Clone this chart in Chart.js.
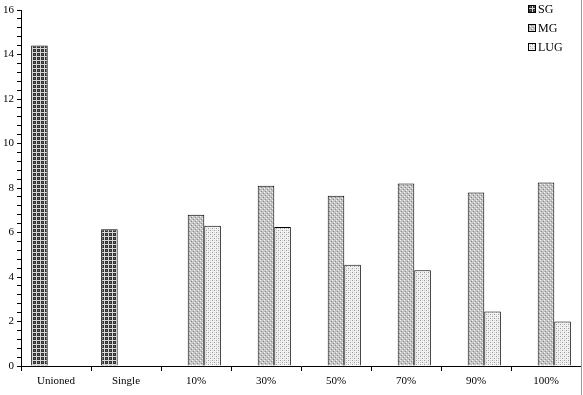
<!DOCTYPE html>
<html>
<head>
<meta charset="utf-8">
<script src="https://cdn.jsdelivr.net/npm/chart.js@4.4.0/dist/chart.umd.min.js"></script>
<style>
  body { margin: 0; background: #fff; }
  canvas { display: block; }
</style>
</head>
<body>
<canvas id="grafica" width="583" height="395"></canvas>
<script>
const categorias = ['Unioned', 'Single', '10%', '30%', '50%', '70%', '90%', '100%'];
const valoresSG = [14.4, 6.15, null, null, null, null, null, null];
const valoresMG = [null, null, 6.8, 8.1, 7.65, 8.2, 7.8, 8.25];
const valoresLUG = [null, null, 6.3, 6.25, 4.55, 4.3, 2.45, 2.0];

// small tiled patterns imitating the print hatching
function patron(fondo, dibujar) {
  const c = document.createElement('canvas');
  c.width = 4; c.height = 4;
  const g = c.getContext('2d');
  g.fillStyle = fondo;
  g.fillRect(0, 0, 4, 4);
  dibujar(g);
  return g.createPattern(c, 'repeat');
}
const ctx = document.getElementById('grafica').getContext('2d');

const patronSG = patron('#333', g => {
  g.fillStyle = '#d8d8d8';
  g.fillRect(0, 0, 4, 1);
  g.fillRect(0, 0, 1, 4);
  g.fillStyle = '#6a6a6a';
  g.fillRect(2, 2, 1, 1);
});
const patronMG = patron('#c4c4c4', g => {
  g.fillStyle = '#f4f4f4';
  g.fillRect(0, 0, 1, 1);
  g.fillRect(2, 2, 1, 1);
  g.fillStyle = '#888';
  g.fillRect(1, 3, 1, 1);
  g.fillRect(3, 1, 1, 1);
});
const patronLUG = patron('#f2f2f2', g => {
  g.fillStyle = '#9a9a9a';
  g.fillRect(0, 0, 1, 1);
  g.fillRect(2, 2, 1, 1);
  g.fillStyle = '#d0d0d0';
  g.fillRect(0, 2, 1, 1);
  g.fillRect(2, 0, 1, 1);
});

const leyenda = {
  id: 'leyenda',
  afterDraw(chart) {
    const c = chart.ctx;
    c.save();
    c.font = '12px "Liberation Serif", "DejaVu Serif", serif';
    c.textBaseline = 'middle';
    c.textAlign = 'left';
    chart.data.datasets.forEach((ds, i) => {
      const y = 9 + i * 19;
      c.fillStyle = ds.backgroundColor;
      c.fillRect(528, y - 4, 8, 8);
      c.strokeStyle = '#000';
      c.lineWidth = 1;
      c.strokeRect(528.5, y - 3.5, 7, 7);
      c.fillStyle = '#000';
      c.fillText(ds.label, 538, y + 1);
    });
    // right frame line
    c.strokeStyle = '#999';
    c.beginPath();
    c.moveTo(581.5, 0);
    c.lineTo(581.5, 395);
    c.stroke();
    c.restore();
  }
};

const fuente = { family: '"Liberation Serif", "DejaVu Serif", serif', size: 11 };

new Chart(ctx, {
  type: 'bar',
  data: {
    labels: categorias,
    datasets: [
      { label: 'SG', data: valoresSG, backgroundColor: patronSG },
      { label: 'MG', data: valoresMG, backgroundColor: patronMG },
      { label: 'LUG', data: valoresLUG, backgroundColor: patronLUG }
    ]
  },
  options: {
    responsive: false,
    animation: false,
    layout: { padding: { top: 10, right: 2, left: 0, bottom: 0 } },
    datasets: {
      bar: {
        borderColor: '#000',
        borderWidth: 1,
        borderSkipped: 'bottom',
        categoryPercentage: 0.71,
        barPercentage: 1
      }
    },
    plugins: {
      legend: { display: false },
      tooltip: { enabled: false }
    },
    scales: {
      x: {
        grid: { offset: true, drawOnChartArea: false, tickLength: 5, color: '#000' },
        border: { color: '#000', width: 1 },
        ticks: { color: '#000', font: fuente, padding: 4, maxRotation: 0 },
        afterFit: s => { s.height = 29; }
      },
      y: {
        min: 0,
        max: 16,
        grid: { drawOnChartArea: false, tickLength: 4, color: '#000' },
        border: { color: '#000', width: 1 },
        ticks: {
          stepSize: 0.4,
          autoSkip: false,
          color: '#000',
          font: fuente,
          padding: 3,
          callback: v => Math.abs(v / 2 - Math.round(v / 2)) < 1e-6 ? Math.round(v) : ''
        },
        afterFit: s => { s.width = 21; }
      }
    }
  },
  plugins: [leyenda]
});
</script>
</body>
</html>
